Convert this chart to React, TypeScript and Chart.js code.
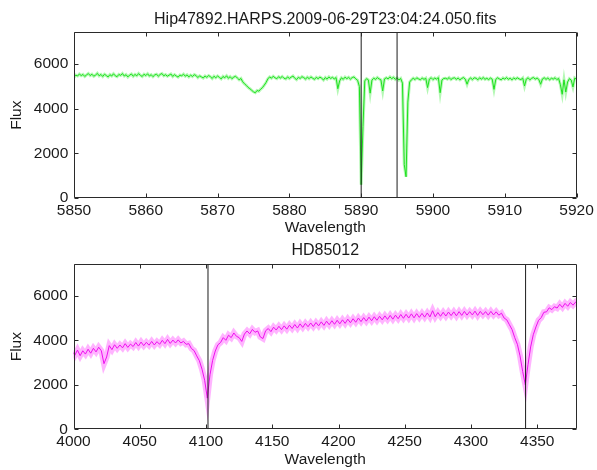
import React, { useEffect, useRef } from "react";
import { Chart, registerables } from "chart.js";

Chart.register(...registerables);

// ---------- data ----------
const topTitle = "Hip47892.HARPS.2009-06-29T23:04:24.050.fits";
const bottomTitle = "HD85012";
const xLabel = "Wavelength";
const yLabel = "Flux";

const yMin = 0;
const yMax = 7430;
const yTickValues = [0, 2000, 4000, 6000];

// top spectrum: wavelength grid start / spacing (Angstrom), flux
const topStart = 5850;
const topStep = 0.25;
const topXMin = 5850;
const topXMax = 5920;
const topXStep = 10;
const topFlux = [
  5420, 5510, 5470, 5560,
  5490, 5540, 5450, 5520,
  5580, 5490, 5550, 5460,
  5510, 5590, 5480, 5540,
  5450, 5550, 5490, 5430,
  5530, 5470, 5570, 5480,
  5440, 5540, 5500, 5580,
  5470, 5530, 5430, 5510,
  5560, 5460, 5540, 5480,
  5580, 5500, 5450, 5550,
  5490, 5570, 5470, 5530,
  5440, 5520, 5550, 5460,
  5540, 5580, 5480, 5530,
  5460, 5510, 5560, 5450,
  5530, 5470, 5420, 5510,
  5480, 5550, 5460, 5520,
  5430, 5510, 5450, 5530,
  5490, 5400, 5480, 5430,
  5380, 5470, 5410, 5490,
  5440, 5360, 5460, 5390,
  5470, 5410, 5340, 5450,
  5390, 5480, 5370, 5440,
  5350, 5420, 5460, 5380,
  5300, 5360, 5210, 5120,
  5050, 4960, 4900, 4830,
  4760, 4720, 4820, 4790,
  4880, 4950, 5060, 5180,
  5340, 5430, 5370, 5460,
  5390, 5350, 5440, 5380,
  5450, 5370, 5340, 5430,
  5360, 5420, 5470, 5370,
  5310, 5410, 5360, 5440,
  5400, 5330, 5420, 5350,
  5430, 5370, 5320, 5410,
  5350, 5420, 5370, 5290,
  5400, 5330, 5430, 5360,
  5410, 5340, 5400, 4900,
  5250, 5390, 5320, 5420,
  5350, 5410, 5330, 5400,
  5430, 5340, 5280, 5000,
  600, 3200, 5250, 5350,
  5300, 4700, 5290, 5370,
  5320, 5400, 5340, 5300,
  4800, 5340, 5390, 5340,
  5430, 5350, 5410, 5320,
  5390, 5290, 5360, 5150,
  1500, 950, 4300, 5200,
  5300, 5370, 5310, 5390,
  5340, 5300, 5380, 5320,
  5370, 4950, 5330, 5390,
  5310, 5380, 5330, 5400,
  4720, 5290, 5360, 5370,
  5330, 5400, 5310, 5370,
  5390, 5320, 5380, 5300,
  5360, 5400, 5330, 5100,
  5320, 5380, 5310, 5390,
  5370, 5300, 5390, 5330,
  5400, 5320, 5370, 5310,
  5380, 5330, 4870, 5320,
  5390, 5340, 5300, 5380,
  5330, 5400, 5320, 5370,
  5300, 5380, 5330, 5390,
  5340, 5310, 5380, 5020,
  5330, 5390, 5300, 5370,
  5400, 5330, 5380, 5310,
  5100, 5340, 5390, 5320,
  5380, 5300, 5370, 5330,
  5390, 5310, 5360, 5080,
  4650, 5300, 4750, 5200,
  5350, 5290, 4980, 5380,
  5320,
];
const topMarks = [5890, 5895];

// bottom spectrum
const bottomStart = 3999;
const bottomStep = 2;
const bottomXMin = 4000;
const bottomXMax = 4380;
const bottomXStep = 50;
const bottomFlux = [
  3500, 3330, 3560, 3310, 3530, 3380, 3600, 3420, 3640, 3480,
  3690, 3530, 2950, 3250, 3760, 3580, 3800, 3640, 3790, 3660,
  3850, 3680, 3830, 3720, 3900, 3740, 3920, 3760, 3910, 3780,
  3950, 3790, 3940, 3820, 4000, 3850, 4040, 3860, 4010, 3880,
  4020, 3880, 3950, 3820, 3850, 3630, 3540, 3300, 3080, 2700,
  2200, 1400, 2450, 3100, 3520, 3800, 3900, 4120, 4000, 4230,
  4120, 4330, 4180, 4120, 3950, 4280, 4420, 4290, 4490, 4360,
  4420, 4150, 4080, 4430, 4530, 4390, 4590, 4460, 4630, 4480,
  4650, 4500, 4680, 4530, 4710, 4550, 4740, 4580, 4760, 4610,
  4780, 4620, 4800, 4650, 4830, 4670, 4860, 4700, 4880, 4720,
  4900, 4740, 4920, 4760, 4950, 4790, 4970, 4810, 5000, 4840,
  5020, 4860, 5040, 4880, 5060, 4900, 5080, 4920, 5100, 4940,
  5120, 4950, 5130, 4970, 5160, 4990, 5170, 5000, 5190, 5010,
  5200, 5030, 5210, 5040, 5230, 5050, 5330, 5060, 5250, 5080,
  5260, 5090, 5270, 5110, 5280, 5100, 5290, 5120, 5300, 5130,
  5290, 5140, 5310, 5120, 5300, 5150, 5290, 5130, 5300, 5140,
  5280, 5130, 5220, 5000, 4920, 4700, 4480, 4120, 3820, 3300,
  2600, 2000, 2900, 3700, 4250, 4600, 4900, 5020, 5260, 5280,
  5460, 5380, 5510, 5450, 5620, 5480, 5660, 5530, 5700, 5580,
  5720, 5640,
];
const bottomMarks = [4101.5, 4341.2];

// ---------- styling ----------
const FONT_FAMILY = "'Liberation Sans', Arial, Helvetica, sans-serif";
const FONT_SIZE = 15.5;
const TITLE_SIZE = 16;
const TEXT_COLOR = "#1a1a1a";
const FRAME_COLOR = "#2a2a2a";

type Panel = {
  top: number;
  height: number;
  title: string;
  titlePad: { top: number; bottom: number };
  xMin: number;
  xMax: number;
  xStep: number;
  start: number;
  step: number;
  flux: number[];
  marks: number[];
  color: string;
  halo: string;
  haloWidth: number;
  yAxisWidth: number;
  xAxisHeight: number;
  xTitlePadBottom: number;
  padRight: number;
};

const panels: Panel[] = [
  {
    top: 0,
    height: 237,
    title: topTitle,
    titlePad: { top: 9.5, bottom: 3.6 },
    xMin: topXMin,
    xMax: topXMax,
    xStep: topXStep,
    start: topStart,
    step: topStep,
    flux: topFlux,
    marks: topMarks,
    color: "#1fe01f",
    halo: "rgba(40,235,40,0.35)",
    haloWidth: 3,
    yAxisWidth: 74,
    xAxisHeight: 39,
    xTitlePadBottom: 0,
    padRight: 19.3,
  },
  {
    top: 233,
    height: 237,
    title: bottomTitle,
    titlePad: { top: 8, bottom: 3.8 },
    xMin: bottomXMin,
    xMax: bottomXMax,
    xStep: bottomXStep,
    start: bottomStart,
    step: bottomStep,
    flux: bottomFlux,
    marks: bottomMarks,
    color: "#ee10ee",
    halo: "rgba(255,40,255,0.35)",
    haloWidth: 6,
    yAxisWidth: 73.5,
    xAxisHeight: 40.7,
    xTitlePadBottom: 1.4,
    padRight: 20,
  },
];

const centerTitlePlugin = {
  id: "centerTitleOnPlot",
  afterLayout(chart: any) {
    const tb = chart.titleBlock;
    if (tb) {
      tb.left = chart.chartArea.left;
      tb.right = chart.chartArea.right;
    }
  },
};

const framePlugin = {
  id: "matlabFrame",
  afterDatasetsDraw(chart: any) {
    const { ctx, chartArea: a, scales } = chart;
    const tl = 4;
    ctx.save();
    ctx.strokeStyle = FRAME_COLOR;
    ctx.lineWidth = 1;
    const L = Math.round(a.left) + 0.5;
    const R = Math.round(a.right) - 0.5;
    const T = Math.round(a.top) + 0.5;
    const B = Math.round(a.bottom) - 0.5;
    ctx.beginPath();
    ctx.rect(L, T, R - L, B - T);
    ctx.stroke();
    ctx.beginPath();
    for (const t of scales.x.ticks) {
      const px = Math.round(scales.x.getPixelForValue(t.value)) + 0.5;
      ctx.moveTo(px, B);
      ctx.lineTo(px, B - tl);
      ctx.moveTo(px, T);
      ctx.lineTo(px, T + tl);
    }
    for (const t of scales.y.ticks) {
      const py = Math.round(scales.y.getPixelForValue(t.value)) + 0.5;
      ctx.moveTo(L, py);
      ctx.lineTo(L + tl, py);
      ctx.moveTo(R, py);
      ctx.lineTo(R - tl, py);
    }
    ctx.stroke();
    ctx.restore();
  },
};

function buildConfig(p: Panel): any {
  const spectrum = p.flux.map((y, i) => ({ x: p.start + i * p.step, y }));
  const markSets = p.marks.map((w) => ({
    data: [
      { x: w, y: yMin },
      { x: w, y: yMax },
    ],
    borderColor: "#1c1c1c",
    borderWidth: 1,
    pointRadius: 0,
    order: 0,
  }));
  const font = { family: FONT_FAMILY, size: FONT_SIZE };
  return {
    type: "line",
    data: {
      datasets: [
        ...markSets,
        {
          data: spectrum,
          borderColor: p.color,
          borderWidth: 1,
          pointRadius: 0,
          tension: 0,
          order: 1,
        },
        {
          data: spectrum,
          borderColor: p.halo,
          borderWidth: p.haloWidth,
          pointRadius: 0,
          tension: 0,
          order: 2,
        },
      ],
    },
    options: {
      responsive: false,
      animation: false,
      devicePixelRatio: 1,
      events: [],
      layout: { padding: { left: 0, top: 0, right: p.padRight, bottom: 0 } },
      plugins: {
        legend: { display: false },
        tooltip: { enabled: false },
        title: {
          display: true,
          text: p.title,
          color: TEXT_COLOR,
          font: { family: FONT_FAMILY, size: TITLE_SIZE, weight: "normal" },
          padding: p.titlePad,
        },
      },
      scales: {
        x: {
          type: "linear",
          min: p.xMin,
          max: p.xMax,
          grid: { display: false, drawTicks: false },
          border: { display: false },
          ticks: {
            stepSize: p.xStep,
            includeBounds: false,
            autoSkip: false,
            maxRotation: 0,
            padding: 3.2,
            color: TEXT_COLOR,
            font,
            callback: (v: any) => String(v),
          },
          title: {
            display: true,
            text: xLabel,
            color: TEXT_COLOR,
            font,
            padding: { top: 0, bottom: p.xTitlePadBottom },
          },
          afterFit: (s: any) => {
            s.height = p.xAxisHeight;
          },
        },
        y: {
          type: "linear",
          min: yMin,
          max: yMax,
          grid: { display: false, drawTicks: false },
          border: { display: false },
          afterBuildTicks: (s: any) => {
            s.ticks = yTickValues.map((v) => ({ value: v }));
          },
          ticks: {
            padding: 5.7,
            color: TEXT_COLOR,
            font,
            callback: (v: any) => String(v),
          },
          title: {
            display: true,
            text: yLabel,
            color: TEXT_COLOR,
            font,
            padding: { top: 7.7, bottom: 0 },
          },
          afterFit: (s: any) => {
            s.width = p.yAxisWidth;
          },
        },
      },
    },
    plugins: [centerTitlePlugin, framePlugin],
  };
}

function PanelChart({ p }: { p: Panel }) {
  const ref = useRef<HTMLCanvasElement | null>(null);
  useEffect(() => {
    if (!ref.current) return;
    const chart = new Chart(ref.current, buildConfig(p));
    return () => chart.destroy();
  }, [p]);
  return (
    <canvas
      ref={ref}
      width={597}
      height={p.height}
      style={{ position: "absolute", left: 0, top: p.top, width: 597, height: p.height }}
    />
  );
}

export default function App() {
  return (
    <div
      style={{
        position: "absolute",
        left: 0,
        top: 0,
        width: 597,
        height: 470,
        background: "#ffffff",
        overflow: "hidden",
      }}
    >
      {panels.map((p, i) => (
        <PanelChart key={i} p={p} />
      ))}
    </div>
  );
}
